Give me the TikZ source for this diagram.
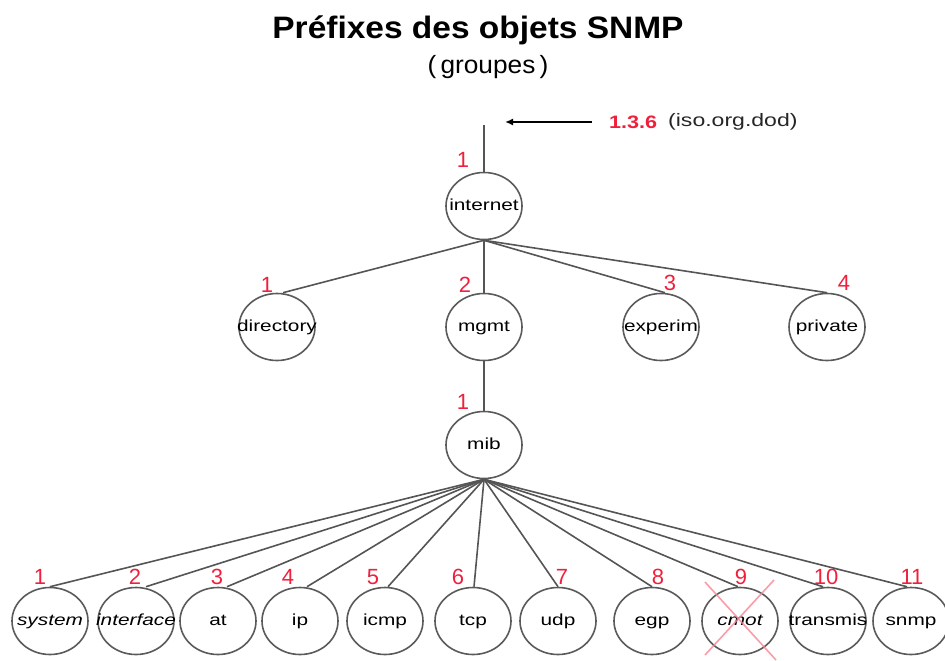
\documentclass[tikz,border=0pt]{standalone}
\usepackage{fontspec}
\setmainfont{Liberation Sans}
\usetikzlibrary{shapes.geometric,arrows.meta}
\definecolor{numred}{HTML}{F0203C}
\definecolor{edgegray}{HTML}{555555}
\definecolor{ringgray}{HTML}{5A5A5A}
\newcommand{\otext}[1]{\makebox[0pt][c]{#1}}
\tikzset{
  obj/.style={ellipse, draw=ringgray, line width=1.6pt, minimum width=76pt, minimum height=67pt, inner sep=0pt, text height=2.1ex, text depth=0.3ex, font=\fontsize{16}{18}\selectfont\addfontfeature{FakeStretch=1.3}},
  num/.style={text=numred, font=\fontsize{22}{24}\selectfont, inner sep=0pt},
  link/.style={draw=edgegray, line width=1.6pt},
  cross/.style={draw=numred!55, line width=1.6pt, opacity=0.8}
}
\begin{document}
\begin{tikzpicture}[x=1pt,y=-1pt]
\useasboundingbox (0,0) rectangle (945,661);
% titles
\node[font=\fontsize{31}{34}\selectfont\bfseries\addfontfeature{FakeStretch=1.08}] (title) at (478,30) {Préfixes des objets SNMP};
\node[font=\fontsize{25}{28}\selectfont\addfontfeature{FakeStretch=1.05}] (sub) at (488,67) {(\,groupes\,)};
% top
\coordinate (top) at (484,125);
\coordinate (arrS) at (592,122);
\coordinate (arrE) at (505,122);
\draw[black, line width=1.6pt, -{Latex[length=8pt,width=7pt]}] (arrS) -- (arrE);
\node[text=numred, font=\fontsize{18}{20}\selectfont\bfseries\addfontfeature{FakeStretch=1.2}, anchor=west, inner sep=0pt] (oid) at (609,122) {1.3.6};
\node[font=\fontsize{18}{20}\selectfont\addfontfeature{FakeStretch=1.28}, anchor=west, text=black!85, inner sep=0pt] (oidname) at (668,122) {(iso.org.dod)};
% nodes
\node[obj] (internet) at (484,206) {\otext{internet}};
\node[obj] (directory) at (277,327) {\otext{directory}};
\node[obj] (mgmt) at (484,327) {\otext{mgmt}};
\node[obj] (experim) at (661,327) {\otext{experim}};
\node[obj] (private) at (827,327) {\otext{private}};
\node[obj] (mib) at (484,445) {\otext{mib}};
\node[obj] (system) at (50,621) {\otext{\itshape system}};
\node[obj] (interface) at (136,621) {\otext{\itshape interface}};
\node[obj] (at) at (218,621) {\otext{at}};
\node[obj] (ip) at (300,621) {\otext{ip}};
\node[obj] (icmp) at (385,621) {\otext{icmp}};
\node[obj] (tcp) at (473,621) {\otext{tcp}};
\node[obj] (udp) at (558,621) {\otext{udp}};
\node[obj] (egp) at (652,621) {\otext{egp}};
\node[obj] (cmot) at (740,621) {\otext{\itshape cmot}};
\node[obj] (transmis) at (828,621) {\otext{transmis}};
\node[obj] (snmp) at (911,621) {\otext{snmp}};
% numbers
\node[num] (n0) at (463,160) {1};
\node[num] (n1) at (267,285) {1};
\node[num] (n2) at (465,285) {2};
\node[num] (n3) at (670,283) {3};
\node[num] (n4) at (844,283) {4};
\node[num] (n5) at (463,402) {1};
\node[num] (b1) at (40,577) {1};
\node[num] (b2) at (135,577) {2};
\node[num] (b3) at (217,577) {3};
\node[num] (b4) at (288,577) {4};
\node[num] (b5) at (373,577) {5};
\node[num] (b6) at (458,577) {6};
\node[num] (b7) at (562,577) {7};
\node[num] (b8) at (658,577) {8};
\node[num] (b9) at (741,577) {9};
\node[num] (b10) at (826,577) {10};
\node[num] (b11) at (912,577) {11};
% links
\draw[link] (top) -- (internet.north);
\draw[link] (internet.south) -- ([xshift=6pt]directory.north);
\draw[link] (internet.south) -- (mgmt.north);
\draw[link] (internet.south) -- ([xshift=4pt]experim.north);
\draw[link] (internet.south) -- (private.north);
\draw[link] (mgmt.south) -- (mib.north);
\foreach \c/\dx in {system/0,interface/10,at/9,ip/7,icmp/3,tcp/1,udp/0,egp/0,cmot/-2,transmis/-5,snmp/-4}{
  \draw[link] (mib.south) -- ([xshift=\dx pt]\c.north);
}
% cross over cmot
\coordinate (xa) at (705,582);
\coordinate (xb) at (776,660);
\coordinate (xc) at (774,580);
\coordinate (xd) at (705,655);
\draw[cross] (xa) -- (xb);
\draw[cross] (xc) -- (xd);
\end{tikzpicture}
\end{document}
